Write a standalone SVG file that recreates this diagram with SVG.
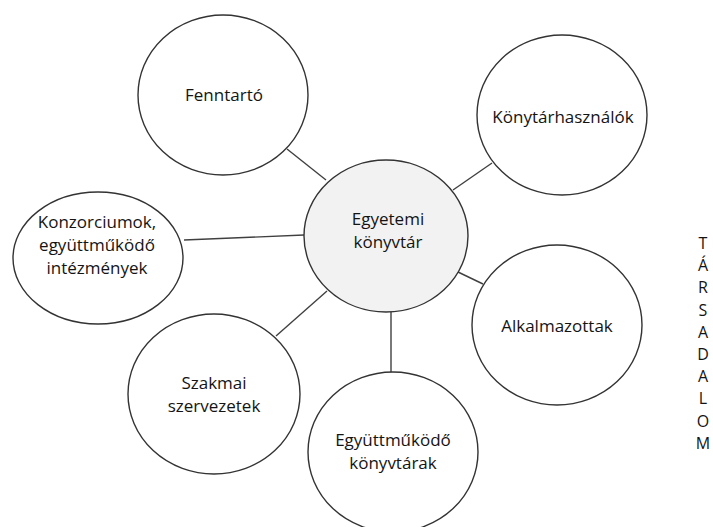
<svg xmlns="http://www.w3.org/2000/svg" width="713" height="527" viewBox="0 0 713 527">
<style>
.n{fill:#fff;stroke:#333;stroke-width:1.4}
.c{fill:#f2f2f2;stroke:#333;stroke-width:1.4}
.l{stroke:#404040;stroke-width:1.4;fill:none}
text{font-family:"Open Sans","Noto Sans",sans-serif;font-size:17px;fill:#141414;text-anchor:middle}
.v{font-size:16px}
</style>
<rect width="713" height="527" fill="#fff"/>
<g id="connectors">
<line class="l" x1="287" y1="149" x2="326" y2="180"/>
<line class="l" x1="492" y1="163" x2="453" y2="190"/>
<line class="l" x1="184" y1="240" x2="304" y2="235"/>
<line class="l" x1="483" y1="284" x2="458" y2="272"/>
<line class="l" x1="276" y1="336" x2="327" y2="291"/>
<line class="l" x1="391" y1="312" x2="391" y2="372"/>
</g>
<g id="center">
<ellipse class="c" cx="386" cy="236" rx="82" ry="76"/>
<text x="388" y="225">Egyetemi</text>
<text x="388" y="248">könyvtár</text>
</g>
<g id="fenntarto">
<ellipse class="n" cx="223" cy="95" rx="85" ry="80"/>
<text x="224" y="101">Fenntartó</text>
</g>
<g id="konytarhasznalok">
<ellipse class="n" cx="562" cy="115" rx="85" ry="80"/>
<text x="563" y="123">Könytárhasználók</text>
</g>
<g id="konzorciumok">
<ellipse class="n" cx="98" cy="258" rx="85" ry="66"/>
<text x="97" y="228">Konzorciumok,</text>
<text x="97" y="251">együttműködő</text>
<text x="97" y="274">intézmények</text>
</g>
<g id="alkalmazottak">
<ellipse class="n" cx="557" cy="325" rx="85" ry="80"/>
<text x="557" y="332">Alkalmazottak</text>
</g>
<g id="szakmai">
<ellipse class="n" cx="214" cy="394" rx="86" ry="80"/>
<text x="214" y="389">Szakmai</text>
<text x="214" y="412">szervezetek</text>
</g>
<g id="egyuttmukodo">
<ellipse class="n" cx="393" cy="452" rx="85" ry="80"/>
<text x="393" y="446">Együttműködő</text>
<text x="393" y="469">könyvtárak</text>
</g>
<g id="tarsadalom" class="v">
<text class="v" x="703" y="249">T</text>
<text class="v" x="703" y="271.2">Á</text>
<text class="v" x="703" y="293.4">R</text>
<text class="v" x="703" y="315.6">S</text>
<text class="v" x="703" y="337.8">A</text>
<text class="v" x="703" y="360">D</text>
<text class="v" x="703" y="382.2">A</text>
<text class="v" x="703" y="404.4">L</text>
<text class="v" x="703" y="426.6">O</text>
<text class="v" x="703" y="448.8">M</text>
</g>
</svg>
